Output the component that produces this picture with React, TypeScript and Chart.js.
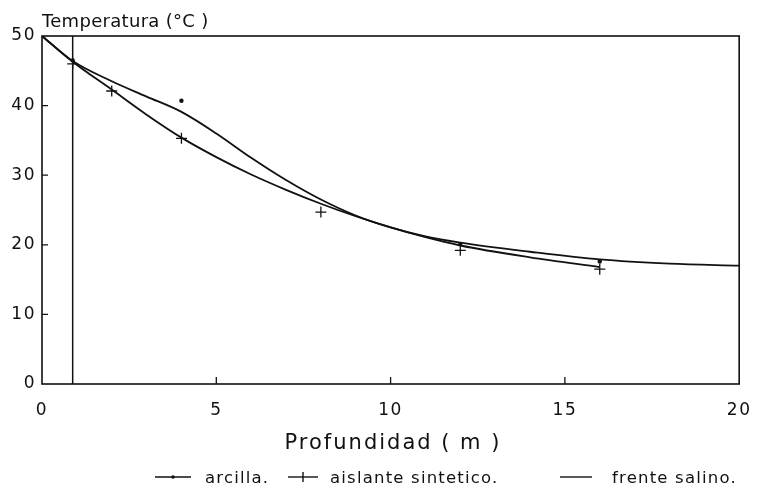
import React, { useEffect, useRef } from "react";
import { Chart, registerables } from "chart.js";

Chart.register(...registerables);

// ---- data ----
const xTicks = [0, 5, 10, 15, 20];
const yTicks = [0, 10, 20, 30, 40, 50];
const markerDepth = 0.88;

const curveDepth = [0, 0.88, 2, 3, 4, 5, 6, 7, 8, 9, 10, 11, 12, 14, 16, 18, 20];
const frenteSalinoTemp = [50, 46.4, 43.5, 41.3, 39.1, 36.0, 32.5, 29.3, 26.5, 24.2, 22.5, 21.2, 20.3, 19.0, 17.9, 17.3, 17.0];

const aislanteFitDepth = [0, 0.88, 2, 3, 4, 5, 6, 7, 8, 9, 10, 11, 12, 14, 16];
const aislanteFitTemp = [50, 46.3, 42.3, 38.7, 35.4, 32.6, 30.1, 27.9, 25.9, 24.1, 22.5, 21.1, 19.9, 18.2, 16.8];

const arcillaDepth = [0.88, 4, 12, 16];
const arcillaTemp = [46.5, 40.7, 20.1, 17.6];

const aislanteDepth = [0.88, 2, 4, 8, 12, 16];
const aislanteTemp = [46.0, 42.1, 35.3, 24.7, 19.2, 16.5];

const legendLabels = ["arcilla.", "aislante sintetico.", "frente salino."];
const yTitle = "Temperatura (°C )";
const xTitle = "Profundidad ( m )";

const INK = "#111";
const FONT = "'DejaVu Sans', 'Liberation Sans', sans-serif";

const zip = (xs: number[], ys: number[]) => xs.map((x, i) => ({ x, y: ys[i] }));

const framePlugin = {
  id: "frame",
  beforeDraw(chart: any) {
    chart.ctx.letterSpacing = "1.5px";
  },
  beforeDatasetsDraw(chart: any) {
    const { ctx, chartArea: a, scales } = chart;
    ctx.letterSpacing = "0px";
    ctx.save();
    ctx.strokeStyle = INK;
    ctx.lineWidth = 1.6;
    ctx.strokeRect(a.left, a.top, a.right - a.left, a.bottom - a.top);
    ctx.lineWidth = 1.3;
    ctx.beginPath();
    yTicks.forEach((v) => {
      if (v === 0 || v === 50) return;
      const y = scales.y.getPixelForValue(v);
      ctx.moveTo(a.left, y);
      ctx.lineTo(a.left + 6, y);
    });
    xTicks.forEach((v) => {
      if (v === 0 || v === 20) return;
      const x = scales.x.getPixelForValue(v);
      ctx.moveTo(x, a.bottom);
      ctx.lineTo(x, a.bottom - 7);
    });
    ctx.stroke();
    ctx.restore();
  },
  afterDraw(chart: any) {
    const { ctx, chartArea: a } = chart;
    ctx.save();
    ctx.fillStyle = INK;
    ctx.strokeStyle = INK;
    // y title
    ctx.letterSpacing = "0.3px";
    ctx.font = `18px ${FONT}`;
    ctx.textAlign = "left";
    ctx.textBaseline = "alphabetic";
    ctx.fillText(yTitle, a.left, 27);
    // x title
    ctx.letterSpacing = "2px";
    ctx.font = `21px ${FONT}`;
    ctx.textAlign = "center";
    ctx.fillText(xTitle, 393, 449);
    // legend
    ctx.letterSpacing = "1.2px";
    ctx.font = `16.5px ${FONT}`;
    ctx.textAlign = "left";
    const ly = 477;
    const items = [
      { x0: 155, x1: 191, tx: 205, mark: "dot" },
      { x0: 288, x1: 318, tx: 330, mark: "cross" },
      { x0: 560, x1: 592, tx: 612, mark: "none" },
    ];
    items.forEach((it, i) => {
      ctx.lineWidth = 1.4;
      ctx.beginPath();
      ctx.moveTo(it.x0, ly);
      ctx.lineTo(it.x1, ly);
      ctx.stroke();
      const cx = (it.x0 + it.x1) / 2;
      if (it.mark === "dot") {
        ctx.beginPath();
        ctx.arc(cx, ly, 1.8, 0, Math.PI * 2);
        ctx.fill();
      } else if (it.mark === "cross") {
        ctx.beginPath();
        ctx.moveTo(cx, ly - 5);
        ctx.lineTo(cx, ly + 5);
        ctx.stroke();
      }
      ctx.fillText(legendLabels[i], it.tx, 483);
    });
    ctx.restore();
  },
};

export default function App() {
  const ref = useRef<HTMLCanvasElement | null>(null);
  useEffect(() => {
    if (!ref.current) return;
    const chart = new Chart(ref.current, {
      type: "scatter",
      data: {
        datasets: [
          {
            label: "marker",
            data: [
              { x: markerDepth, y: 0 },
              { x: markerDepth, y: 50 },
            ],
            showLine: true,
            borderColor: INK,
            borderWidth: 1.5,
            pointRadius: 0,
          },
          {
            label: legendLabels[2],
            data: zip(curveDepth, frenteSalinoTemp),
            showLine: true,
            cubicInterpolationMode: "monotone",
            borderColor: INK,
            borderWidth: 1.8,
            pointRadius: 0,
          },
          {
            label: legendLabels[1] + " fit",
            data: zip(aislanteFitDepth, aislanteFitTemp),
            showLine: true,
            cubicInterpolationMode: "monotone",
            borderColor: INK,
            borderWidth: 1.8,
            pointRadius: 0,
          },
          {
            label: legendLabels[0],
            data: zip(arcillaDepth, arcillaTemp),
            showLine: false,
            pointStyle: "circle",
            pointRadius: 2.2,
            backgroundColor: INK,
            borderColor: INK,
            borderWidth: 0,
          },
          {
            label: legendLabels[1],
            data: zip(aislanteDepth, aislanteTemp),
            showLine: false,
            pointStyle: "cross",
            pointRadius: 5.5,
            borderColor: INK,
            borderWidth: 1.3,
          },
        ],
      } as any,
      options: {
        animation: false,
        responsive: false,
        layout: { padding: { top: 36, right: 18, left: 0, bottom: 0 } },
        plugins: { legend: { display: false }, tooltip: { enabled: false }, title: { display: false } },
        scales: {
          x: {
            type: "linear",
            min: 0,
            max: 20,
            afterBuildTicks: (s: any) => {
              s.ticks = xTicks.map((v) => ({ value: v }));
            },
            afterFit: (s: any) => {
              s.height = 109;
            },
            grid: { display: false, drawTicks: false },
            border: { display: false },
            ticks: { color: INK, font: { family: FONT, size: 17 }, padding: 16, maxRotation: 0 },
          },
          y: {
            type: "linear",
            min: 0,
            max: 50,
            afterBuildTicks: (s: any) => {
              s.ticks = yTicks.map((v) => ({ value: v }));
            },
            afterFit: (s: any) => {
              s.width = 42;
            },
            grid: { display: false, drawTicks: false },
            border: { display: false },
            ticks: { color: INK, font: { family: FONT, size: 17 }, padding: 6 },
          },
        },
      } as any,
      plugins: [framePlugin],
    });
    return () => chart.destroy();
  }, []);
  return (
    <div style={{ position: "fixed", left: 0, top: 0, width: 766, height: 493, background: "#fff" }}>
      <canvas ref={ref} width={766} height={493} style={{ width: 766, height: 493 }} />
    </div>
  );
}
